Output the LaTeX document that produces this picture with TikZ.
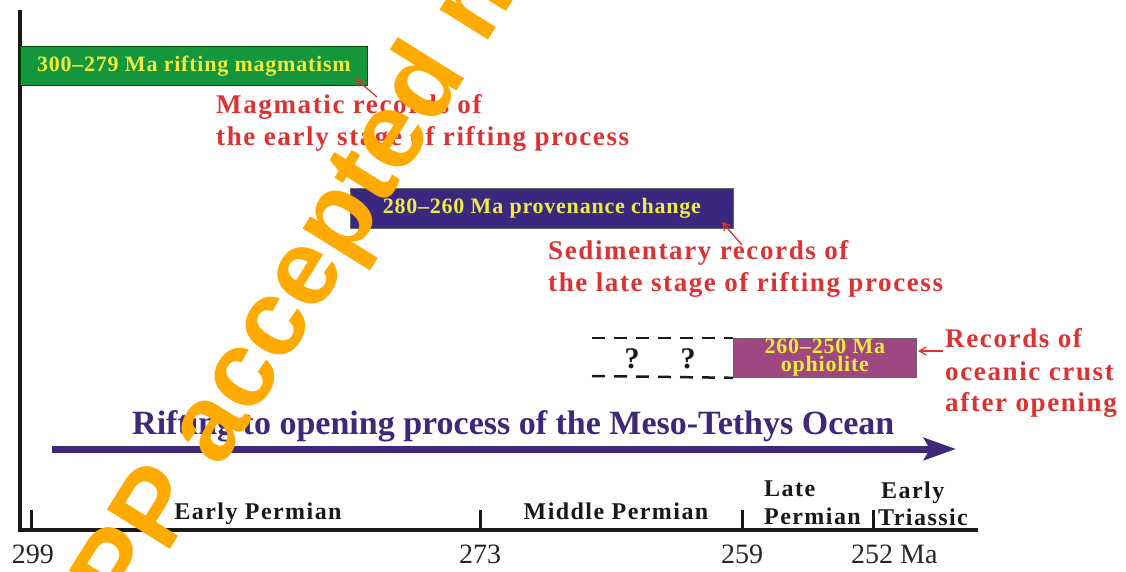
\documentclass[tikz,border=0pt]{standalone}
\usepackage{fontspec}
\setmainfont{Liberation Serif}
\newfontfamily\redfont[LetterSpace=6]{Liberation Serif}
\newfontfamily\boxfont[LetterSpace=3.5]{Liberation Serif}
\newfontfamily\perfont[LetterSpace=6]{Liberation Serif}
\newfontfamily\wmfont{Liberation Sans}
\usetikzlibrary{arrows.meta}
\definecolor{gboxc}{HTML}{14963C}
\definecolor{iboxc}{HTML}{3A2880}
\definecolor{mboxc}{HTML}{A04680}
\definecolor{yelc}{HTML}{F0EB3C}
\definecolor{redc}{HTML}{DC3232}
\definecolor{purc}{HTML}{3E2878}
\definecolor{wmc}{HTML}{FFAA00}
\begin{document}
\begin{tikzpicture}[x=1pt,y=-1pt,
  redtxt/.style={font={\redfont\bfseries\fontsize{27}{30}\selectfont}, text=redc, anchor=base west, inner sep=0pt},
  boxstyle/.style={draw=black!60, line width=0.8pt, anchor=north west, inner sep=0pt, align=center, text=yelc,
     font={\boxfont\bfseries\fontsize{22}{18}\selectfont}},
  pertxt/.style={font={\perfont\bfseries\fontsize{24}{26}\selectfont}, text=black!90, anchor=base, inner sep=0pt},
  numtxt/.style={font={\fontsize{28}{32}\selectfont}, text=black!85, anchor=base, inner sep=0pt},
  axisline/.style={line width=4pt, black!90, line join=miter},
  tickline/.style={line width=3pt, black!90},
  redarrow/.style={draw=redc, line width=1.3pt, -{Straight Barb[length=7pt,width=8pt]}},
  dashline/.style={line width=2.5pt, black!90, dash pattern=on 13pt off 9pt},
  qmark/.style={font={\bfseries\fontsize{30}{32}\selectfont}, text=black!90, anchor=base, inner sep=0pt}
]
\useasboundingbox (0,0) rectangle (1126,571);
\fill[white] (0,0) rectangle (1126,571);

% axes
\coordinate (ytop) at (20,10);
\coordinate (orig) at (20,530);
\coordinate (xend) at (978,530);
\draw[axisline] (ytop) -- (orig) -- (xend);
\foreach \xx/\nm in {31/t299, 480/t273, 742/t259, 873/t252} {
  \coordinate (\nm a) at (\xx,531);
  \coordinate (\nm b) at (\xx,510);
  \draw[tickline] (\nm a) -- (\nm b);
}
\node[numtxt] (n299) at (33,563) {299};
\node[numtxt] (n273) at (480,563) {273};
\node[numtxt] (n259) at (742,563) {259};
\node[numtxt, anchor=base west] (n252) at (851,563) {252 Ma};

% periods
\node[pertxt] (pEP) at (258,519) {Early Permian};
\node[pertxt] (pMP) at (616,519) {Middle Permian};
\node[pertxt, anchor=base west] (pLP1) at (764,496) {Late};
\node[pertxt, anchor=base west] (pLP2) at (764,524) {Permian};
\node[pertxt, anchor=base west] (pET1) at (881,498) {Early};
\node[pertxt, anchor=base west] (pET2) at (878,525) {Triassic};

% boxes
\node[boxstyle, fill=gboxc, draw=black!70!green, minimum width=347pt, minimum height=39pt] (gbox) at (20,46) {300–279 Ma rifting magmatism};
\node[boxstyle, fill=iboxc, minimum width=383pt, minimum height=40pt] (ibox) at (350,188) {280–260 Ma provenance change};
\node[boxstyle, fill=mboxc, minimum width=183pt, minimum height=39pt] (mbox) at (733,338) {\raisebox{-2pt}{260–250 Ma}\\\raisebox{-2pt}{ophiolite}};

% dashed lines
\coordinate (d1s) at (592,338);
\coordinate (d2s) at (592,376);
\draw[dashline] (d1s) -- (mbox.north west);
\draw[dashline] (d2s) -- (mbox.south west);
\node[qmark] (q1) at (632,368) {?};
\node[qmark] (q2) at (688,368) {?};

% red labels
\node[redtxt] (r1a) at (216,113) {Magmatic records of};
\node[redtxt] (r1b) at (216,145) {the early stage of rifting process};
\node[redtxt] (r2a) at (548,259) {Sedimentary records of};
\node[redtxt] (r2b) at (548,291) {the late stage of rifting process};
\node[redtxt] (r3a) at (945,347) {Records of};
\node[redtxt] (r3b) at (945,380) {oceanic crust};
\node[redtxt] (r3c) at (945,411) {after opening};

\coordinate (a1t) at (377,97);
\coordinate (a1h) at (355,78);
\draw[redarrow] (a1t) -- (a1h);
\coordinate (a2t) at (742,245);
\coordinate (a2h) at (722,222);
\draw[redarrow] (a2t) -- (a2h);
\coordinate (a3t) at (943,351);
\coordinate (a3h) at (918,351);
\draw[redarrow] (a3t) -- (a3h);

% main process arrow
\node[font={\bfseries\fontsize{34}{36}\selectfont}, text=purc, anchor=base west, inner sep=0pt] (title) at (132,434) {Rifting to opening process of the Meso-Tethys Ocean};
\coordinate (pas) at (52,449);
\coordinate (pae) at (956,449);
\draw[purc, line width=7pt, -{Stealth[length=32pt,width=22pt,inset=6pt]}] (pas) -- (pae);

% watermark
\begin{scope}
\clip (0,0) rectangle (1126,571);
\node[font={\wmfont\bfseries\fontsize{108}{110}\selectfont}, text=wmc, anchor=base west, inner sep=0pt, rotate=58] (wm) at (128,617) {PP accepted manuscript};
\end{scope}
\end{tikzpicture}
\end{document}
